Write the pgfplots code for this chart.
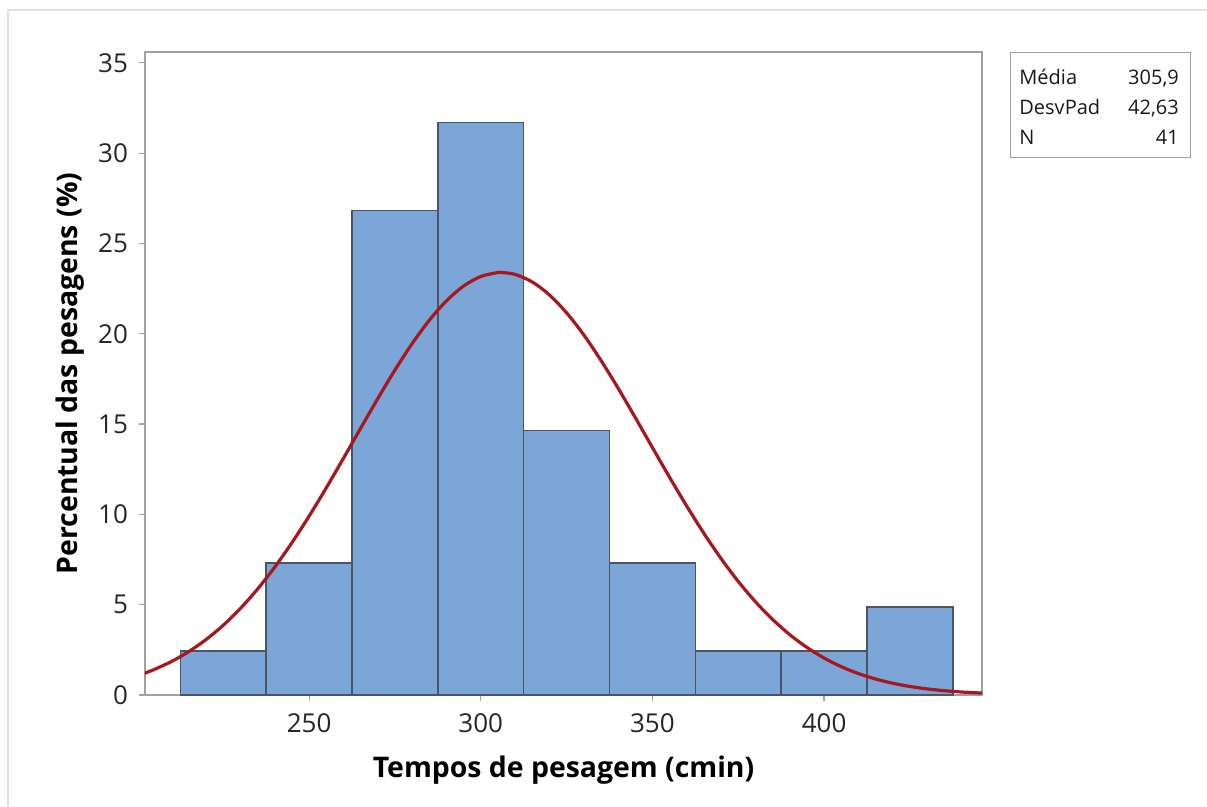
\documentclass[border=0pt]{standalone}
\usepackage{pgfplots}
\pgfplotsset{compat=1.18}
\usepackage{fontspec}
\setmainfont{Open Sans}
\definecolor{barfill}{RGB}{124,166,216}
\definecolor{baredge}{RGB}{75,85,98}
\definecolor{curvered}{RGB}{165,25,30}
\definecolor{framegray}{RGB}{160,160,160}
\definecolor{bordergray}{RGB}{225,225,225}
\begin{document}
\begin{tikzpicture}
\useasboundingbox (0,0) rectangle (603.5pt,-403.5pt);
\draw[bordergray, line width=0.8pt] (4pt,-403.5pt) -- (4pt,-5pt) -- (603.5pt,-5pt);
\begin{axis}[
  at={(72.5pt,-26pt)}, anchor=north west,
  scale only axis, width=418.5pt, height=321.5pt,
  xmin=202.2, xmax=446, ymin=0, ymax=35.6,
  xtick={250,300,350,400}, ytick={0,5,10,15,20,25,30,35},
  axis line style={framegray, line width=0.8pt},
  tick style={framegray, line width=0.6pt},
  tick align=outside, major tick length=3pt,
  xtick pos=bottom, ytick pos=left,
  /pgf/number format/assume math mode=true,
  ticklabel style={font=\fontsize{13}{15}\selectfont, text=black!85},
  xticklabel style={yshift=-3pt},
  yticklabel style={xshift=-2pt},
  xlabel={\textbf{Tempos de pesagem (cmin)}},
  ylabel={\textbf{Percentual das pesagens (\%)}},
  label style={font=\fontsize{14.2}{17}\selectfont},
  xlabel style={at={(axis description cs:0.5,-0.117)}, anchor=center},
  ylabel style={at={(axis description cs:-0.0896,0.5)}, anchor=center},
  clip=true,
]
\addplot[ybar interval, fill=barfill, draw=baredge, line width=0.7pt] coordinates {
(212.5,2.439) (237.5,7.317) (262.5,26.829) (287.5,31.707) (312.5,14.634)
(337.5,7.317) (362.5,2.439) (387.5,2.439) (412.5,4.878) (437.5,4.878)};
\addplot[curvered, line width=1.6pt, smooth] coordinates {
(202,1.200) (205,1.421) (210,1.863) (215,2.409) (220,3.072) (225,3.864)
(230,4.795) (235,5.867) (240,7.083) (245,8.433) (250,9.902) (255,11.470)
(260,13.103) (265,14.765) (270,16.410) (275,17.991) (280,19.451) (285,20.745)
(290,21.822) (295,22.642) (300,23.172) (305,23.390) (305.9,23.395) (310,23.287)
(315,22.868) (320,22.150) (325,21.160) (330,19.940) (335,18.532) (340,16.990)
(345,15.362) (350,13.700) (355,12.052) (360,10.457) (365,8.949) (370,7.554)
(375,6.289) (380,5.164) (385,4.183) (390,3.342) (395,2.633) (400,2.047)
(405,1.569) (410,1.187) (415,0.885) (420,0.651) (425,0.472) (430,0.338)
(435,0.238) (440,0.166) (446,0.106)};
\end{axis}
\node[draw=framegray, line width=0.6pt, anchor=north west, inner sep=0pt,
  minimum width=90pt, minimum height=52.5pt] at (505pt,-26pt) {};
\node[anchor=north west, inner sep=0pt, font=\fontsize{10}{15}\selectfont, text=black!90] at (509.5pt,-31.5pt) {%
\begin{tabular}{@{}l@{\hspace{14pt}}r@{}}
Média & 305,9\\
DesvPad & 42,63\\
N & 41
\end{tabular}};
\end{tikzpicture}
\end{document}
